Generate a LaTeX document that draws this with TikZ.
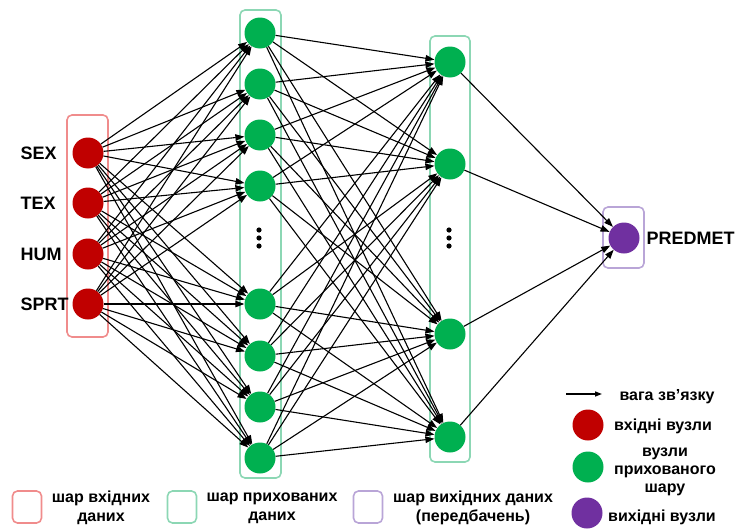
\documentclass[tikz,border=0pt]{standalone}
\usepackage{fontspec}
\setmainfont{Liberation Sans}
\usetikzlibrary{arrows.meta,positioning}
\definecolor{inred}{HTML}{C00000}
\definecolor{hidgreen}{HTML}{00B050}
\definecolor{outpurple}{HTML}{7030A0}
\definecolor{boxred}{HTML}{F08C8C}
\definecolor{boxgreen}{HTML}{8CD7B4}
\definecolor{boxpurple}{HTML}{B9A5D7}

\begin{document}
\begin{tikzpicture}[x=1pt,y=-1pt,
  neuron/.style={circle,minimum size=31pt,inner sep=0pt},
  layerbox/.style={draw,rounded corners=5pt,line width=1.6pt},
  legbox/.style={draw,rounded corners=5pt,line width=1.6pt,minimum width=29pt,minimum height=32pt,inner sep=0pt},
  weight/.style={-{Triangle[length=9pt,width=6.5pt]},line width=1.1pt},
  lbl/.style={font=\bfseries\fontsize{18}{20}\selectfont},
  legtext/.style={font=\bfseries\fontsize{16}{19}\selectfont,align=center,inner sep=0pt}]
  \useasboundingbox (0,0) rectangle (739,530);

  % layer frames
  \draw[layerbox,boxred] (67,115) rectangle (108,337);
  \draw[layerbox,boxgreen] (240,10) rectangle (281,478);
  \draw[layerbox,boxgreen] (430,36) rectangle (470,462);
  \draw[layerbox,boxpurple] (603,207) rectangle (644,268);

  % input layer
  \foreach \i/\y/\t in {1/153/SEX,2/203/TEX,3/254/HUM,4/304/SPRT} {
    \node[neuron,fill=inred] (in\i) at (88,\y) {};
    \node[lbl,anchor=west] (lab\i) at (17,\y) {\t};
  }

  % first hidden layer
  \foreach \j/\y in {1/33,2/84,3/135,4/186,5/304,6/356,7/407,8/458}
    \node[neuron,fill=hidgreen] (a\j) at (260,\y) {};

  % second hidden layer
  \foreach \k/\y in {1/62,2/164,3/334,4/437}
    \node[neuron,fill=hidgreen] (b\k) at (450,\y) {};

  % output
  \node[neuron,fill=outpurple] (out) at (624,238) {};
  \node[lbl,anchor=west] (outlab) at (643,238) {PREDMET};

  % vertical dots
  \foreach \d in {-8,0,8} {
    \fill (259,{238+\d}) circle (2.6);
    \fill (449,{238+\d}) circle (2.6);
  }

  % weights
  \foreach \i in {1,...,4}
    \foreach \j in {1,...,8}
      \draw[weight] (in\i) -- (a\j);
  \foreach \j in {1,...,8}
    \foreach \k in {1,...,4}
      \draw[weight] (a\j) -- (b\k);
  \foreach \k in {1,...,4}
    \draw[weight] (b\k) -- (out);

  % legend, bottom
  \node[legbox,draw=boxred] (kin) at (27,507) {};
  \node[legtext] (tin) at (101,508) {шар вхідних\\даних};
  \node[legbox,draw=boxgreen] (khid) at (182,507) {};
  \node[legtext] (thid) at (272,508) {шар прихованих\\даних};
  \node[legbox,draw=boxpurple] (kout) at (368,507) {};
  \node[legtext] (tout) at (473,508) {шар вихідних даних\\(передбачень)};

  % legend, right
  \coordinate (w0) at (566,394);
  \coordinate (w1) at (602,394);
  \draw[-{Triangle[length=7pt,width=5pt]},line width=1.3pt] (w0) -- (w1);
  \node[legtext] (tw) at (667,397) {вага зв'язку};
  \node[neuron,fill=inred] (cin) at (588,425) {};
  \node[legtext] (tcin) at (663,426) {вхідні вузли};
  \node[neuron,fill=hidgreen] (chid) at (588,467) {};
  \node[legtext,font=\bfseries\fontsize{16}{18}\selectfont] (tchid) at (665,472) {вузли\\прихованого\\шару};
  \node[neuron,fill=outpurple] (cout) at (587,513) {};
  \node[legtext] (tcout) at (662,517) {вихідні вузли};
\end{tikzpicture}
\end{document}
